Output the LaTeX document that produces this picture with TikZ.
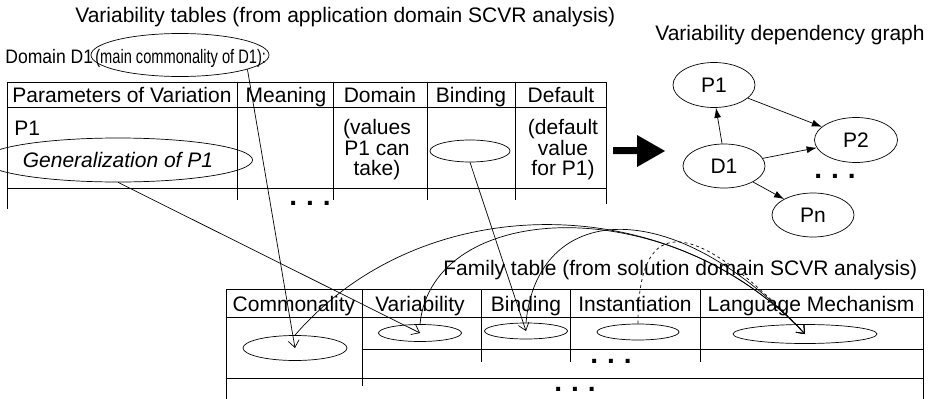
\documentclass[tikz,border=0pt]{standalone}
\usepackage{fontspec}
\usepackage{graphicx}
\setmainfont{Liberation Sans}
\usetikzlibrary{shapes.geometric,arrows.meta}

\begin{document}
\begin{tikzpicture}[x=1pt,y=-1pt,line width=0.7pt,
  every node/.style={font=\fontsize{21}{20.5}\selectfont, inner sep=0pt},
  oval/.style={ellipse, draw},
  sdots/.style={font=\fontsize{28}{28}\selectfont\bfseries},
  barb/.style={-{Straight Barb[length=7pt,width=11pt]}},
  gedge/.style={-{Latex[length=10pt,width=7pt]}}]
\useasboundingbox (0,0) rectangle (935,399);

% variability table
\node[anchor=base west] (vtitle) at (75,22) {Variability tables (from application domain SCVR analysis)};
\node[anchor=base west, font=\fontsize{19.5}{19.5}\selectfont] (dom) at (5,63) {\scalebox{0.9}[1]{Domain D1}};
\node[anchor=base west, font=\fontsize{19.5}{19.5}\selectfont] (mainct) at (95,63) {\scalebox{0.75}[1]{(main commonality of D1):}};
\node[oval, minimum width=178pt, minimum height=43pt] (mainc) at (180,55) {};

\draw (7,82) -- (606,82) (7,107) -- (606,107) (7,188) -- (606,188);
\draw (7,82) -- (7,209) (606,82) -- (606,204);
\foreach \x in {237,333,427,515}
  \draw (\x,82) -- (\x,200);

\foreach \x/\t/\n in {122/Parameters of Variation/hpv, 286/Meaning/hmn, 380/Domain/hdm, 471/Binding/hbd, 561/Default/hdf}
  \node[anchor=base] (\n) at (\x,102) {\t};

\node[anchor=base west] (p1) at (14,135) {P1};
\node[oval, minimum width=225pt, minimum height=44pt] (gen) at (118,160) {\itshape Generalization of P1};
\node[align=center] (vals) at (377,150) {(values\\P1 can\\take)};
\node[oval, minimum width=80pt, minimum height=22pt] (bindu) at (470,151) {};
\node[align=center] (defv) at (563,150) {(default\\value\\for P1)};
\node[sdots] (udots) at (310,203) {.\hspace{9pt}.\hspace{9pt}.};

\fill (613,147) -- (637,147) -- (637,135) -- (665,151) -- (637,167) -- (637,154) -- (613,154) -- cycle;

% dependency graph
\node[anchor=base] (gtitle) at (790,40) {Variability dependency graph};
\node[oval, minimum width=82pt, minimum height=45pt] (gP1) at (714,85) {P1};
\node[oval, minimum width=82pt, minimum height=44pt] (gD1) at (724,166) {D1};
\node[oval, minimum width=83pt, minimum height=45pt] (gP2) at (856,140) {P2};
\node[oval, minimum width=82pt, minimum height=44pt] (gPn) at (813,215) {Pn};
\node[sdots] (gdots) at (835,176) {.\hspace{9pt}.\hspace{9pt}.};
\draw[gedge] (gD1.95) -- (gP1.-85);
\draw[gedge] (gP1) -- (gP2);
\draw[gedge] (gD1) -- (gP2);
\draw[gedge] (gD1) -- (gPn);

% family table
\node[anchor=base west] (ftitle) at (443,275) {Family table (from solution domain SCVR analysis)};
\draw (226,289) -- (923,289) (226,317) -- (923,317) (362,349) -- (923,349) (226,378) -- (923,378);
\draw (226,289) -- (226,399) (923,289) -- (923,399) (362,289) -- (362,386);
\foreach \x in {481,570,700}
  \draw (\x,289) -- (\x,362);

\foreach \x/\t/\n in {294/Commonality/hcm, 420/Variability/hvr, 526/Binding/hbn, 635/Instantiation/hin, 811/Language Mechanism/hlm}
  \node[anchor=base] (\n) at (\x,311) {\t};

\node[oval, minimum width=104pt, minimum height=25pt] (comm) at (295,348) {};
\node[oval, minimum width=83pt, minimum height=17pt] (var) at (420,333) {};
\node[oval, minimum width=83pt, minimum height=16pt] (bindl) at (526,331) {};
\node[oval, minimum width=82pt, minimum height=16pt] (inst) at (638,332) {};
\node[oval, minimum width=144pt, minimum height=19pt] (lm) at (805,334) {};
\node[sdots] (fdots) at (611,361) {.\hspace{9pt}.\hspace{9pt}.};
\node[sdots] (bdots) at (575,389) {.\hspace{9pt}.\hspace{9pt}.};

\draw[barb] (mainc.-12) -- (comm.center);
\draw[barb] (gen.south) -- (var.center);
\draw[barb] (bindu.south) -- (bindl.center);
\draw[barb] (comm.north) .. controls (422,188) and (668,188) .. (lm.center);
\draw[barb] (var.north) .. controls (432,200) and (668,188) .. (lm.center);
\draw[barb] (bindl.north) .. controls (537,205) and (668,188) .. (lm.center);
\draw[barb, dashed] (inst.north) .. controls (638,240) and (668,188) .. (lm.center);
\end{tikzpicture}
\end{document}
